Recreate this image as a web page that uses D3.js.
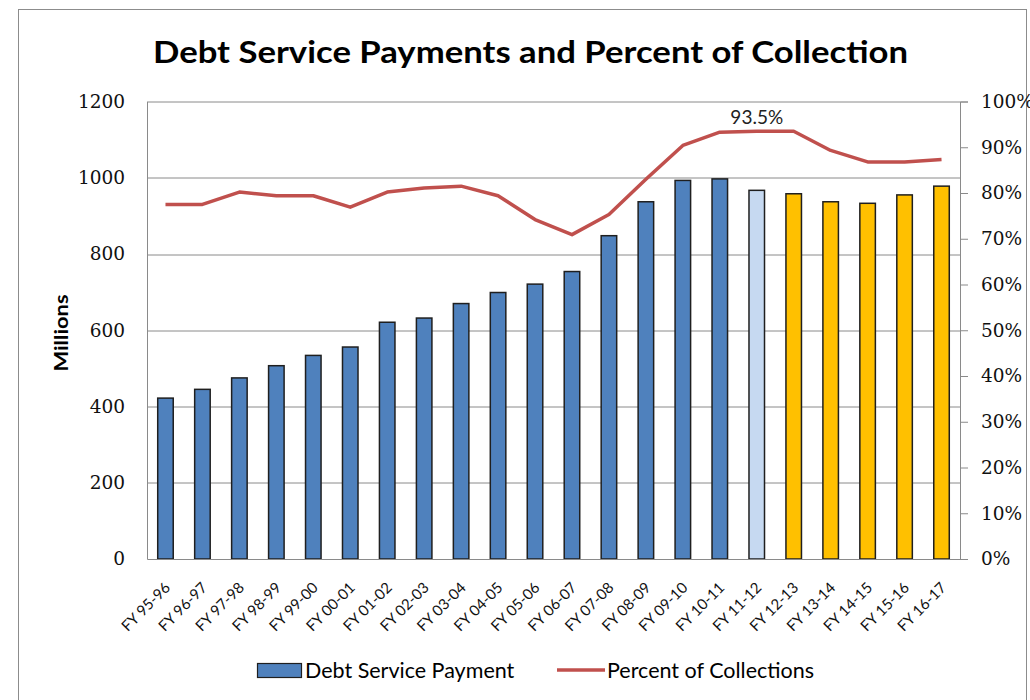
<!DOCTYPE html>
<html>
<head>
<meta charset="utf-8">
<script src="https://d3js.org/d3.v7.min.js"></script>
<style>
  body { margin: 0; background: #fff; }
  svg { display: block; }
</style>
</head>
<body>
<div id="container"></div>
<script>
/* Data */
var years = ["FY 95-96", "FY 96-97", "FY 97-98", "FY 98-99", "FY 99-00", "FY 00-01",
	"FY 01-02", "FY 02-03", "FY 03-04", "FY 04-05", "FY 05-06", "FY 06-07",
	"FY 07-08", "FY 08-09", "FY 09-10", "FY 10-11", "FY 11-12", "FY 12-13",
	"FY 13-14", "FY 14-15", "FY 15-16", "FY 16-17"];
var payments = [422, 445, 475, 507, 534, 556, 621, 632, 670, 699, 721, 754,
	848, 937, 993, 997, 967, 958, 937, 933, 955, 978];
var percentCollections = [77.5, 77.5, 80.2, 79.4, 79.4, 76.9, 80.2, 81.1, 81.5, 79.4, 74.2, 70.9,
	75.3, 83.0, 90.4, 93.3, 93.5, 93.5, 89.3, 86.8, 86.8, 87.3];
var paymentKind = ["actual", "actual", "actual", "actual", "actual", "actual", "actual", "actual",
	"actual", "actual", "actual", "actual", "actual", "actual", "actual", "actual",
	"estimate", "projected", "projected", "projected", "projected", "projected"];
var leftTicks = [0, 200, 400, 600, 800, 1000, 1200];
var rightTicks = [0, 10, 20, 30, 40, 50, 60, 70, 80, 90, 100];
var peakLabel = { index: 16, text: "93.5%" };

var w = 1030, h = 700;
var margin = { top: 101.5, right: 70, bottom: 141, left: 147 };
var width = w - margin.left - margin.right,
	height = h - margin.top - margin.bottom;

var svg = d3.select("#container").append("svg")
	.attr("width", w)
	.attr("height", h)
	.style("font-family", "Lato, 'Open Sans', sans-serif");

/* outer chart border */
svg.append("rect")
	.attr("x", 18.5).attr("y", 9.5)
	.attr("width", 1008).attr("height", 720)
	.attr("fill", "none")
	.attr("stroke", "#8c8c8c")
	.attr("stroke-width", 1);

/* Title */
svg.append("text")
	.attr("x", 153).attr("y", 63)
	.attr("textLength", 755)
	.attr("lengthAdjust", "spacingAndGlyphs")
	.style("font-size", "31px")
	.style("font-weight", "bold")
	.attr("fill", "#000")
	.text("Debt Service Payments and Percent of Collection");

var chart = svg.append("g")
	.attr("transform", "translate(" + margin.left + "," + margin.top + ")");

/* Scales */
var xScale = d3.scaleBand()
	.domain(years)
	.range([0, width])
	.paddingInner(0.58)
	.paddingOuter(0.29);
var yScale = d3.scaleLinear().domain([0, 1200]).range([height, 0]);
var pScale = d3.scaleLinear().domain([0, 100]).range([height, 0]);
var kindColor = d3.scaleOrdinal()
	.domain(["actual", "estimate", "projected"])
	.range(["#4F81BD", "#C6D9F1", "#FFC000"]);

/* gridlines */
chart.append("g")
	.selectAll("line")
	.data(leftTicks.slice(1))
	.join("line")
	.attr("x1", 0).attr("x2", width)
	.attr("y1", d => Math.round(yScale(d)) + 0.5)
	.attr("y2", d => Math.round(yScale(d)) + 0.5)
	.attr("stroke", "#8a8a8a")
	.attr("stroke-width", 1);

/* Left axis */
var yAxis = d3.axisLeft(yScale).tickValues(leftTicks).tickSize(0).tickPadding(22)
	.tickFormat(d3.format("d"));
var gy = chart.append("g").call(yAxis);
gy.select(".domain").attr("stroke", "#8a8a8a");
gy.selectAll("text")
	.style("font-family", "'DejaVu Serif', serif")
	.style("font-size", "18.5px")
	.attr("fill", "#111");

/* Right axis */
var pAxis = d3.axisRight(pScale).tickValues(rightTicks).tickSize(8).tickPadding(13)
	.tickFormat(d => d + "%");
var gp = chart.append("g")
	.attr("transform", "translate(" + width + ",0)")
	.call(pAxis);
gp.select(".domain").attr("stroke", "#8a8a8a");
gp.selectAll("line").attr("stroke", "#8a8a8a");
gp.selectAll("text")
	.style("font-family", "'DejaVu Serif', serif")
	.style("font-size", "18.5px")
	.attr("fill", "#111");

/* Y label */
svg.append("text")
	.attr("transform", "translate(68,333) rotate(-90)")
	.attr("text-anchor", "middle")
	.attr("textLength", 77)
	.attr("lengthAdjust", "spacingAndGlyphs")
	.style("font-size", "19px")
	.style("font-weight", "bold")
	.text("Millions");

/* Bars */
chart.append("g")
	.selectAll("rect")
	.data(payments)
	.join("rect")
	.attr("x", (d, i) => xScale(years[i]))
	.attr("y", d => yScale(d))
	.attr("width", xScale.bandwidth())
	.attr("height", d => height - yScale(d))
	.attr("fill", (d, i) => kindColor(paymentKind[i]))
	.attr("stroke", "#1f1f1f")
	.attr("stroke-width", 1.5);

/* bottom axis */
var xAxis = d3.axisBottom(xScale).tickSize(0).tickFormat("");
var gx = chart.append("g")
	.attr("transform", "translate(0," + height + ")")
	.call(xAxis);
gx.select(".domain").attr("stroke", "#8a8a8a");

chart.append("g")
	.selectAll("text")
	.data(years)
	.join("text")
	.attr("transform", d => "translate(" + (xScale(d) + xScale.bandwidth() / 2 + 2) + "," + (height + 26) + ") rotate(-45)")
	.attr("text-anchor", "end")
	.attr("dy", "0.35em")
	.style("font-size", "15px")
	.attr("fill", "#111")
	.text(d => d);

/* Line */
var line = d3.line()
	.x((d, i) => xScale(years[i]) + xScale.bandwidth() / 2)
	.y(d => pScale(d));

chart.append("path")
	.attr("d", line(percentCollections))
	.attr("fill", "none")
	.attr("stroke", "#C0504D")
	.attr("stroke-width", 3.5)
	.attr("stroke-linejoin", "round");

/* Peak label */
chart.append("text")
	.attr("x", xScale(years[peakLabel.index]) + xScale.bandwidth() / 2)
	.attr("y", pScale(percentCollections[peakLabel.index]) - 7)
	.attr("text-anchor", "middle")
	.style("font-size", "19px")
	.attr("fill", "#222")
	.text(peakLabel.text);

/* Legend */
var legend = svg.append("g");
legend.append("rect")
	.attr("x", 257.5).attr("y", 663.5)
	.attr("width", 44).attr("height", 14)
	.attr("fill", "#4F81BD")
	.attr("stroke", "#1f1f1f")
	.attr("stroke-width", 1.2);
legend.append("text")
	.attr("x", 305).attr("y", 678)
	.style("font-size", "21.5px")
	.text("Debt Service Payment");
legend.append("line")
	.attr("x1", 557).attr("x2", 605)
	.attr("y1", 670).attr("y2", 670)
	.attr("stroke", "#C0504D")
	.attr("stroke-width", 3.5);
legend.append("text")
	.attr("x", 607).attr("y", 678)
	.style("font-size", "21.5px")
	.text("Percent of Collections");
</script>
</body>
</html>
